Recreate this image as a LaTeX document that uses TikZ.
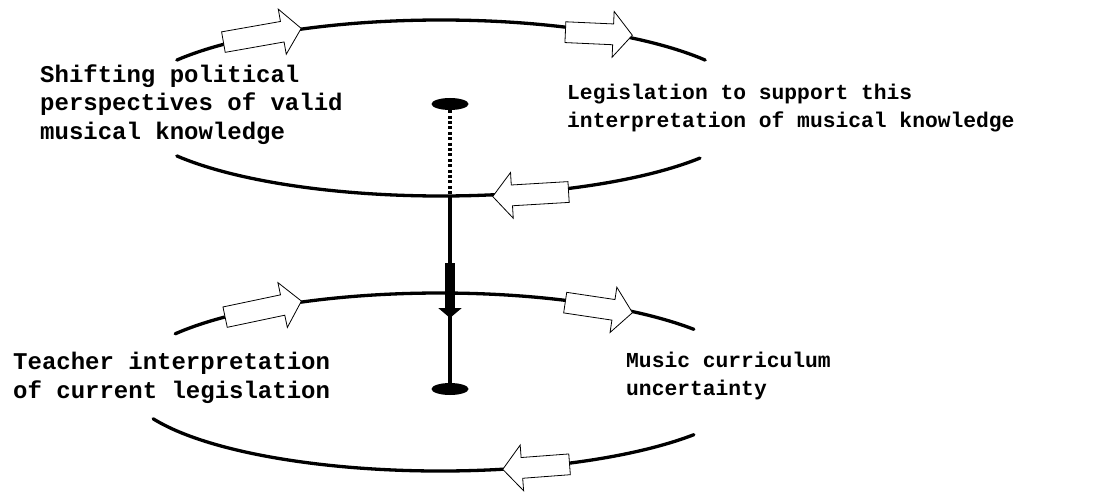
\documentclass[tikz,border=0pt]{standalone}
\usepackage{fontspec}
\setmainfont{Liberation Mono}
\usetikzlibrary{shapes.arrows,shapes.geometric,arrows.meta}
\begin{document}
\begin{tikzpicture}[x=1pt,y=-1pt,
  ring/.style={line width=3.3pt, line cap=round},
  blockarrow/.style={single arrow, draw=black, fill=white, line width=0.8pt,
    inner xsep=0pt, inner ysep=10pt, single arrow head extend=12.5pt,
    single arrow tip angle=100},
  lblbig/.style={align=left, inner sep=0pt, anchor=base west,
    font=\fontsize{24}{29}\selectfont\bfseries},
  lblsmall/.style={align=left, inner sep=0pt, anchor=base west,
    font=\fontsize{21.3}{28}\selectfont\bfseries},
  dot/.style={ellipse, fill=black, inner sep=0pt, minimum width=37pt, minimum height=12pt},
  dotline/.style={line width=4pt, dash pattern=on 3pt off 2.4pt},
  axis/.style={line width=3.6pt}]
\useasboundingbox (0,0) rectangle (1098,492);
% rings
\draw[ring] ([shift={(441,108)}]213:315 and 88) arc[start angle=213,end angle=327,x radius=315,y radius=88];
\draw[ring] ([shift={(441,108)}]147:315 and 88) arc[start angle=147,end angle=34.7,x radius=315,y radius=88];
\draw[ring] ([shift={(440,382)}]212.8:315 and 89) arc[start angle=212.8,end angle=323.7,x radius=315,y radius=89];
\draw[ring] ([shift={(440,382)}]155.6:315 and 89) arc[start angle=155.6,end angle=36.3,x radius=315,y radius=89];
% block arrows
\node[blockarrow, minimum height=79pt, rotate=10] (a1) at (258,36) {};
\node[blockarrow, minimum height=67pt, rotate=-2.6] (a2) at (594.5,33.5) {};
\node[blockarrow, minimum height=76pt, rotate=183.4] (a3) at (535,194) {};
\node[blockarrow, minimum height=78pt, rotate=11.9] (a4) at (259,310) {};
\node[blockarrow, minimum height=68pt, rotate=-8.5] (a5) at (594.5,307) {};
\node[blockarrow, minimum height=67pt, rotate=184.3] (a6) at (540.5,466.5) {};
% labels (anchored at the baseline of their last line)
\node[lblbig] (t1) at (40,140) {Shifting political\\perspectives of valid\\musical knowledge};
\node[lblsmall] (t2) at (567,128) {Legislation to support this\\interpretation of musical knowledge};
\node[lblbig] (t3) at (13,398) {Teacher interpretation\\of current legislation};
\node[lblsmall] (t4) at (626,395) {Music curriculum\\uncertainty};
% axis
\node[dot] (topdot) at (450,104) {};
\node[dot] (botdot) at (450,389) {};
\coordinate (x1) at (450,196);
\coordinate (b1) at (450,263);
\coordinate (b2) at (450,318);
\draw[dotline] (topdot.south) -- (x1);
\draw[axis] (x1) -- (botdot.center);
\draw[line width=10.5pt, -{Triangle[width=23pt,length=10pt]}] (b1) -- (b2);
\end{tikzpicture}
\end{document}
